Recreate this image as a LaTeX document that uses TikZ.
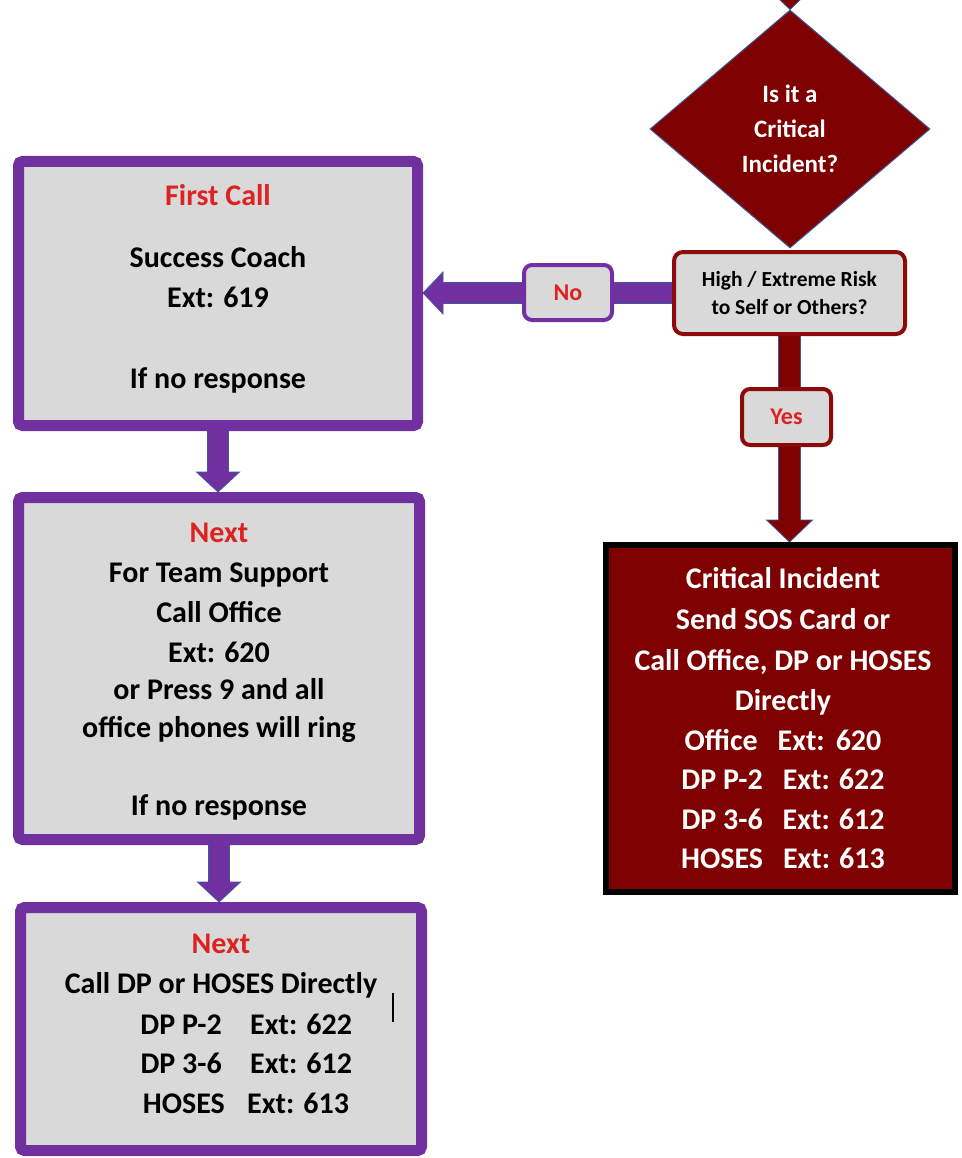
\documentclass[tikz,border=0pt]{standalone}
\usepackage{fontspec}
\setmainfont{Carlito}
\usetikzlibrary{shapes.geometric,calc}
\definecolor{purp}{HTML}{7030A0}
\definecolor{maroon}{HTML}{7F0000}
\definecolor{hiborder}{HTML}{8B0A0A}
\definecolor{boxgray}{HTML}{D9D9D9}
\definecolor{redtxt}{HTML}{DD2222}
\definecolor{edgeblue}{HTML}{3A5A9A}
\pgfdeclarelayer{background}
\pgfsetlayers{background,main}
% block arrow pointing down: style, start, tip, shaft half width, head half width, head length
\newcommand\blockdown[6]{\draw[#1] ($(#2)+(-#4,0)$) -- ($(#3)+(-#4,-#6)$) -- ($(#3)+(-#5,-#6)$) -- (#3) -- ($(#3)+(#5,-#6)$) -- ($(#3)+(#4,-#6)$) -- ($(#2)+(#4,0)$) -- cycle;}
% block arrow pointing left
\newcommand\blockleft[6]{\draw[#1] ($(#2)+(0,-#4)$) -- ($(#3)+(#6,-#4)$) -- ($(#3)+(#6,-#5)$) -- (#3) -- ($(#3)+(#6,#5)$) -- ($(#3)+(#6,#4)$) -- ($(#2)+(0,#4)$) -- cycle;}
\begin{document}
\begin{tikzpicture}[x=1pt,y=-1pt,
  pbox/.style={draw=purp,line width=11pt,fill=boxgray,rounded corners=4pt,inner sep=0pt},
  btxt/.style={anchor=base,inner sep=0pt,font=\fontsize{30}{36}\selectfont\bfseries},
  rtxt/.style={btxt,text=redtxt},
  wtxt/.style={anchor=base,inner sep=0pt,text=white,font=\fontsize{30}{36}\selectfont\bfseries},
  parrow/.style={fill=purp,draw=edgeblue,line width=0.8pt},
  rarrow/.style={fill=maroon,draw=edgeblue,line width=0.8pt},
  smallbox/.style={line width=4pt,fill=boxgray,inner sep=0pt,text=redtxt,font=\fontsize{24}{28}\selectfont\bfseries}]
\useasboundingbox (0,0) rectangle (961,1158);

% main boxes
\node[pbox,minimum width=399pt,minimum height=264pt] (first) at (218,293.5) {};
\node[pbox,minimum width=401pt,minimum height=342pt] (next1) at (219,668.5) {};
\node[pbox,minimum width=401pt,minimum height=243pt] (next2) at (221,1029) {};
\node[diamond,fill=maroon,draw=edgeblue,line width=1pt,minimum width=280pt,minimum height=238pt,inner sep=0pt,text=white,align=center,font=\fontsize{25}{35}\selectfont\bfseries] (crit) at (790,129) {Is it a\\Critical\\Incident?};
\node[draw=hiborder,line width=4pt,fill=boxgray,rounded corners=9pt,minimum width=231pt,minimum height=82pt,inner sep=0pt,align=center,font=\fontsize{21.5}{28}\selectfont\bfseries] (risk) at (789.5,293) {High / Extreme Risk\\to Self or Others?};
\node[smallbox,draw=purp,rounded corners=8pt,minimum width=88pt,minimum height=55pt] (no) at (568,292.5) {No};
\node[smallbox,draw=hiborder,rounded corners=8pt,minimum width=89pt,minimum height=56pt] (yes) at (786.5,417) {Yes};
\node[draw=black,line width=6pt,fill=maroon,minimum width=349pt,minimum height=347pt,inner sep=0pt] (ci) at (780.5,718.5) {};

% connectors
\begin{pgfonlayer}{background}
\coordinate (topstart) at (790,-40);
\blockdown{rarrow}{topstart}{crit.north}{11}{23}{22}
\coordinate (yesStart) at ($(risk.south)+(0,-3)$);
\coordinate (yesTip) at (risk.south |- ci.north);
\blockdown{rarrow}{yesStart}{yesTip}{11}{23}{22}
\coordinate (noStart) at ($(risk.west)+(3,0)$);
\coordinate (noTip) at (risk.west -| first.east);
\blockleft{parrow}{noStart}{noTip}{10.5}{21}{20}
\coordinate (s1) at ($(first.south)+(0,-4)$);
\coordinate (t1) at (first.south |- next1.north);
\blockdown{parrow}{s1}{t1}{10.5}{21.5}{20}
\coordinate (s2) at ($(next1.south)+(0,-4)$);
\coordinate (t2) at (next1.south |- next2.north);
\blockdown{parrow}{s2}{t2}{10.5}{21.5}{20}
\end{pgfonlayer}

% texts of box 1
\node[rtxt] (f1) at (218,206) {First Call};
\node[btxt] (f2) at (218,267) {Success Coach};
\node[btxt] (f3) at (218,307) {Ext: 619};
\node[btxt] (f4) at (218,388) {If no response};

% texts of box 2
\node[rtxt] (n1) at (219,542) {Next};
\node[btxt] (n2) at (219,582) {For Team Support};
\node[btxt] (n3) at (219,622) {Call Office};
\node[btxt] (n4) at (219,662) {Ext: 620};
\node[btxt] (n5) at (219,699) {or Press 9 and all};
\node[btxt] (n6) at (219,737) {office phones\ will ring};
\node[btxt] (n7) at (219,815) {If no response};

% texts of box 3
\node[rtxt] (m1) at (221,953) {Next};
\node[btxt] (m2) at (221,993) {Call DP or HOSES Directly};
\node[btxt,anchor=base east] (m3a) at (222,1034) {DP P-2};
\node[btxt,anchor=base west] (m3b) at (250,1034) {Ext: 622};
\node[btxt,anchor=base east] (m4a) at (222,1073) {DP 3-6};
\node[btxt,anchor=base west] (m4b) at (250,1073) {Ext: 612};
\node[btxt,anchor=base east] (m5a) at (225,1113) {HOSES};
\node[btxt,anchor=base west] (m5b) at (247,1113) {Ext: 613};
\draw[line width=1.5pt] (393,993) -- (393,1022);

% texts of critical incident box
\node[wtxt] (c1) at (783,588) {Critical Incident};
\node[wtxt] (c2) at (783,629) {Send SOS Card or};
\node[wtxt] (c3) at (783,670) {Call Office, DP or HOSES};
\node[wtxt] (c4) at (783,710) {Directly};
\node[wtxt] (c5) at (783,750) {Office\hspace{20pt}Ext:\hspace{11pt}620};
\node[wtxt] (c6) at (783,789) {DP P-2\hspace{20pt}Ext: 622};
\node[wtxt] (c7) at (783,829) {DP 3-6\hspace{20pt}Ext: 612};
\node[wtxt] (c8) at (783,868) {HOSES\hspace{20pt}Ext: 613};
\end{tikzpicture}
\end{document}
